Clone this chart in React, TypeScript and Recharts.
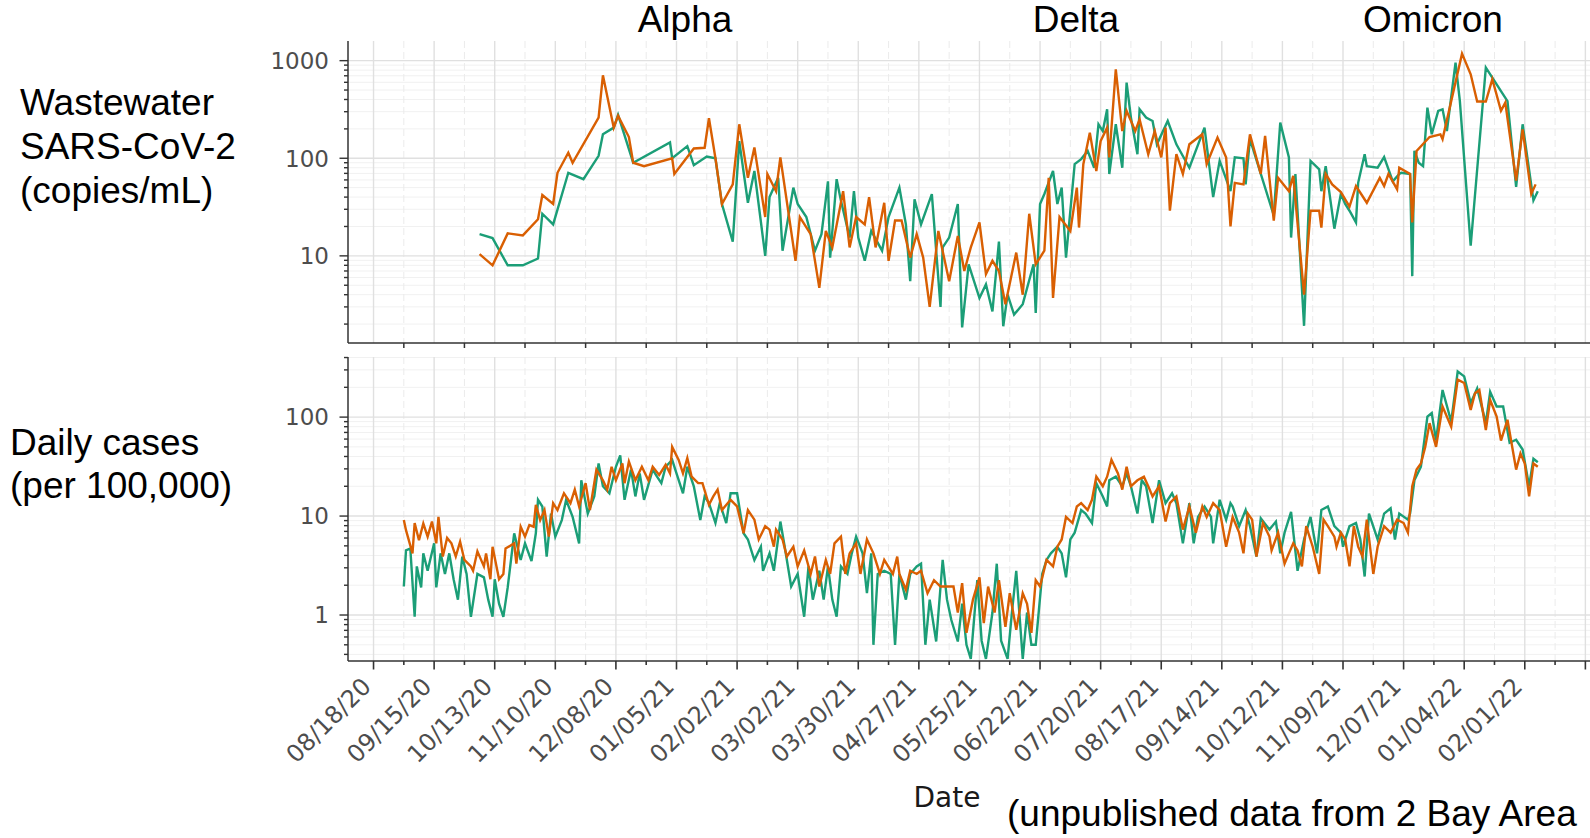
import React from "react";
import { LineChart, Line, XAxis, YAxis, CartesianGrid } from "recharts";

const GREEN = "#1b9e77";
const ORANGE = "#d95f02";
const AXIS = "#333333";
const TICK_TEXT = "#4d4d4d";

// x = days since 08/18/20
const dateLabels = [
  "08/18/20", "09/15/20", "10/13/20", "11/10/20", "12/08/20", "01/05/21", "02/02/21",
  "03/02/21", "03/30/21", "04/27/21", "05/25/21", "06/22/21", "07/20/21", "08/17/21",
  "09/14/21", "10/12/21", "11/09/21", "12/07/21", "01/04/22", "02/01/22",
];
const majorDays = [0, 28, 56, 84, 112, 140, 168, 196, 224, 252, 280, 308, 336, 364, 392, 420, 448, 476, 504, 532, 560];
const minorDays = [14, 42, 70, 98, 126, 154, 182, 210, 238, 266, 294, 322, 350, 378, 406, 434, 462, 490, 518, 546, 574];

const wwMajor = [10, 100, 1000];
const wwMinor = [2, 3, 4, 5, 6, 7, 8, 9, 20, 30, 40, 50, 60, 70, 80, 90, 200, 300, 400, 500, 600, 700, 800, 900];
const caseMajor = [1, 10, 100];
const caseMinor = [0.4, 0.5, 0.6, 0.7, 0.8, 0.9, 2, 3, 4, 5, 6, 7, 8, 9, 20, 30, 40, 50, 60, 70, 80, 90, 200, 300, 400];

type Pt = [number, number];

// Wastewater SARS-CoV-2 (copies/mL)
const wwGreen: Pt[] = [
  [49,16.7],[55,15.2],[62,8.0],[69,8.0],[76,9.4],[78,27],[83,21],[90,71],[97,61],[104,106],[106,176],[111,206],[113,278],
  [120,90],[137,145],[138,100],[145,133],[148,85],[154,104],[158,100],[161,34],[166,14],[169,150],[173,35],[176,74],
  [181,10],[183,40],[187,63],[189,11.3],[194,50],[196,34],[200,25],[204,11.3],[207,16.7],[210,58],[211,9.6],[214,61],
  [216,36.6],[220,15.4],[222,46],[224,15.4],[227,8.9],[230,18],[235,11.3],[238,25],[243,50],[246,21],[248,5.5],[250,38],
  [253,21],[258,43],[262,3.0],[263,12.2],[266,15.4],[270,34],[272,1.85],[275,8.2],[280,3.7],[283,5.1],[286,2.7],[289,14],
  [291,1.9],[293,4.0],[296,2.5],[300,3.2],[305,8.2],[306,2.6],[308,34],[310,43],[314,74],[316,34],[318,50],[320,9.6],
  [324,87],[327,98],[330,119],[333,80],[335,223],[337,190],[339,317],[340,69],[343,223],[346,80],[348,595],[350,261],
  [353,110],[354,317],[357,261],[360,241],[362,139],[367,241],[371,139],[377,80],[384,206],[388,40],[391,94],[396,46],
  [398,102],[402,100],[403,54],[405,157],[416,26],[419,232],[423,102],[424,15.4],[426,69],[430,1.92],[433,94],[437,77],
  [438,46],[440,83],[444,19],[447,43],[449,34],[451,29],[454,22],[455,56],[458,110],[459,83],[464,80],[467,103],[471,58],
  [474,69],[475,71],[479,69],[480,6.2],[481,119],[483,90],[485,83],[487,330],[489,176],[492,306],[494,317],[496,190],
  [500,955],[502,385],[507,12.7],[514,850],[517,670],[521,488],[524,385],[528,51],[531,223],[536,37],[538,46],
];
const wwOrange: Pt[] = [
  [49,10.4],[55,8.0],[62,17],[69,16.2],[76,23.7],[78,42],[83,34],[85,71],[90,114],[92,90],[104,261],[106,708],[111,206],
  [113,272],[118,165],[120,90],[125,83],[138,100],[139,69],[148,126],[153,128],[155,257],[158,100],[161,34],[166,54],
  [169,223],[173,63],[176,129],[181,25],[182,69],[186,46],[188,102],[195,8.9],[197,25],[202,16.7],[206,4.7],[209,18],
  [212,12.2],[217,46],[220,12.2],[223,25],[227,21],[229,40],[232,12.2],[236,35],[238,8.9],[241,23],[244,23],[248,9.6],
  [251,16.7],[254,9.6],[257,3.0],[261,18],[266,5.5],[270,16],[273,7.0],[276,12.2],[280,22],[283,6.5],[286,8.9],[289,7],
  [292,3.2],[297,10.8],[300,4.0],[303,27],[306,8.2],[310,11.3],[312,63],[314,3.7],[317,25],[322,18],[325,50],[326,19.5],
  [328,87],[331,183],[334,74],[336,150],[339,206],[340,102],[343,813],[346,190],[348,306],[352,190],[354,251],[358,110],
  [361,190],[364,102],[366,206],[368,29],[371,110],[374,69],[377,139],[383,176],[385,87],[390,163],[394,102],[396,20],
  [398,56],[402,54],[405,176],[410,69],[412,170],[416,23],[418,63],[423,46],[425,66],[430,4.0],[433,29],[437,29],
  [438,19.5],[440,69],[443,54],[447,45],[451,32],[454,52],[459,35],[465,63],[467,52],[469,69],[473,48],[474,80],[479,69],
  [480,22],[482,119],[488,165],[493,176],[494,157],[503,1180],[507,725],[510,381],[514,381],[517,645],[521,306],[523,371],
  [528,59],[531,198],[535,43],[537,54],
];

// Daily cases (per 100,000)
const caseGreen: Pt[] = [
  [14,1.94],[15,4.5],[17,4.7],[19,0.96],[20,3.1],[22,1.9],[23,4.2],[25,2.8],[28,5.3],[29,1.9],[31,4.2],[33,2.6],[35,4.2],
  [37,2.3],[39,1.43],[41,3.9],[43,2.6],[45,0.96],[48,2.6],[51,2.4],[53,1.43],[55,0.96],[56,2.3],[58,1.3],[60,0.96],[62,1.9],
  [65,6.7],[68,3.6],[70,5.3],[73,3.5],[75,6.7],[76,14.6],[78,12.5],[80,3.9],[82,10.6],[84,6.2],[87,9.1],[89,14.6],[92,9.8],
  [95,5.3],[96,23],[99,10.6],[102,15.8],[104,34],[106,20],[109,17],[112,31.5],[114,41],[116,14.6],[119,29.5],[121,15.8],
  [123,27],[125,14.6],[129,29.5],[131,25],[133,21.5],[135,31.5],[138,37],[140,27],[143,17],[145,31.5],[148,20],[151,9.1],
  [153,15.8],[155,13.5],[158,8.5],[160,13.5],[163,8.5],[165,17],[168,17],[171,6.7],[173,5.8],[175,4.2],[176,3.6],[179,4.9],
  [180,2.8],[183,4.2],[185,2.8],[188,8.8],[190,4.9],[193,1.94],[196,2.6],[199,0.96],[201,3.1],[203,1.43],[206,2.8],
  [208,1.43],[210,3.1],[212,1.43],[214,0.96],[216,3.1],[219,2.6],[221,4.2],[223,6.2],[226,4.2],[228,1.66],[230,4.2],
  [231,0.5],[233,2.6],[236,2.8],[239,2.6],[241,0.5],[243,2.6],[246,1.43],[248,2.6],[251,3.1],[253,3.3],[255,0.5],[257,1.43],
  [260,0.54],[263,3.6],[265,1.43],[267,0.89],[270,0.54],[272,1.3],[274,0.5],[276,0.36],[279,2.25],[281,0.55],[283,0.36],
  [286,1.06],[288,3.3],[290,0.55],[293,0.36],[295,1.06],[297,2.8],[300,0.36],[302,1.06],[304,0.5],[306,0.5],[309,2.6],
  [311,3.6],[313,4.2],[316,4.9],[318,4.2],[320,2.4],[322,5.8],[324,6.8],[327,11.5],[329,10.6],[332,8.5],[334,21.5],
  [337,15.8],[339,12.5],[340,23],[343,25],[346,20],[348,27],[350,20],[353,10.6],[355,23],[357,20],[360,8.5],[363,23],
  [366,13.5],[369,17],[371,13.5],[374,5.3],[377,13.5],[379,5.3],[381,9.8],[384,12.5],[387,9.8],[388,5.3],[391,14.6],
  [394,9.2],[396,13.5],[397,12.5],[400,7.9],[403,11.5],[405,7.9],[408,3.9],[410,9.5],[414,7.3],[417,8.8],[419,4.2],[421,6.8],
  [424,11],[427,2.8],[430,5.8],[433,9.8],[436,4.2],[438,11.5],[441,12.5],[444,7.9],[447,6.8],[448,4.9],[451,7.9],[454,8.5],
  [456,5.8],[458,2.45],[460,10.6],[464,5.8],[467,10.6],[470,12],[472,5.8],[474,10.6],[478,9.2],[479,10.6],[481,23],
  [484,31.5],[487,101],[489,110],[491,58],[494,188],[498,90],[501,289],[504,258],[507,139],[510,195],[514,87],[516,180],
  [519,128],[522,128],[525,55],[528,59],[531,47],[534,20],[536,38],[538,35],
];
const caseOrange: Pt[] = [
  [14,9.1],[15,7.2],[18,4.2],[19,8.5],[21,5.7],[23,8.4],[25,6.2],[27,8.8],[29,5.3],[30,9.8],[32,3.9],[34,6.0],[36,5.3],
  [38,3.9],[40,5.5],[42,3.6],[45,3.1],[46,2.8],[48,4.4],[51,3.1],[52,4.2],[54,2.3],[55,4.9],[58,2.3],[60,2.6],[61,4.7],
  [65,5.3],[66,3.3],[68,7.8],[70,6.2],[72,8.1],[74,7.8],[75,13],[77,9.1],[79,11.5],[81,6.2],[83,13.5],[85,11.5],[88,17],
  [91,13.5],[93,18.5],[95,12.5],[98,21.5],[100,11.5],[103,29.5],[106,23],[108,18.5],[110,31.5],[112,23],[115,34],[116,21.5],
  [118,35.5],[121,23],[124,31.5],[127,23],[129,31.5],[132,26],[135,33],[137,27],[138,50],[141,37],[143,27],[145,38.5],
  [147,25],[150,21.5],[152,21.5],[155,13],[157,15.8],[159,18.5],[161,11.5],[165,14.6],[168,12.5],[171,6.7],[173,11.5],
  [176,9.2],[178,5.8],[181,7.9],[183,7.3],[185,4.9],[186,7.3],[189,5.8],[191,3.9],[194,4.9],[196,3.1],[199,4.5],[202,2.6],
  [204,3.9],[206,1.94],[209,3.6],[211,2.6],[213,5.3],[216,6.2],[218,2.6],[220,4.2],[223,5.3],[225,2.6],[228,5.8],[231,4.2],
  [234,2.6],[236,3.6],[240,2.6],[242,3.9],[243,2.6],[246,1.8],[248,2.8],[251,2.6],[253,2.8],[256,1.66],[259,2.25],[262,1.94],
  [265,1.94],[268,1.94],[270,1.06],[272,2.1],[274,0.66],[277,1.43],[280,2.4],[282,0.83],[284,1.94],[287,1.06],[289,2.25],
  [292,0.76],[294,1.66],[297,0.71],[300,1.66],[302,1.3],[304,0.66],[306,2.25],[308,1.94],[311,3.6],[314,3.1],[316,4.9],
  [318,5.8],[320,9.8],[323,8.5],[325,12.5],[327,13.5],[330,11.5],[332,14.6],[334,25],[337,20],[339,25],[341,37],[344,27],
  [346,18.5],[348,31.5],[350,20],[353,23],[356,25],[358,20],[360,15.8],[363,20],[366,8.8],[368,13.5],[371,15.8],[374,7.3],
  [377,12.5],[380,6.8],[383,12.5],[385,9.8],[388,13.5],[391,11.5],[394,4.9],[397,9.8],[400,6.8],[402,4.2],[404,10.6],
  [406,9.2],[408,3.9],[411,8.5],[414,6.2],[415,4.5],[418,6.8],[421,3.3],[423,4.2],[425,5.3],[427,4.5],[429,3.1],[431,7.9],
  [434,4.9],[437,2.6],[439,9.2],[441,7.9],[444,6.2],[445,4.9],[447,6.8],[449,5.8],[451,3.1],[453,7.9],[455,4.9],[457,3.9],
  [459,9.2],[462,2.6],[464,4.9],[467,7.9],[470,6.8],[473,9.2],[476,8.5],[478,6.8],[480,20],[482,29.5],[484,34],[486,50],
  [488,87],[491,50],[494,128],[498,80],[501,239],[504,221],[507,118],[509,174],[511,188],[514,74],[516,149],[519,101],
  [521,58],[524,94],[528,29.5],[530,43],[532,34],[534,15.8],[536,34],[538,31.5],
];

const X_DOMAIN: [number, number] = [-11.8, 576];
const CHART_W = 1620;
const AXIS_FONT = "'DejaVu Sans', sans-serif";
const LABEL_FONT = "'Liberation Sans', Arial, sans-serif";

const rows = (pts: Pt[]) => pts.map(([d, v]) => ({ d, v }));

function makeYTick(majors: number[]) {
  return (props: any) => {
    const { x, y, payload } = props;
    const major = majors.includes(payload.value);
    return (
      <g>
        <line x1={x - (major ? 8.5 : 4)} x2={x} y1={y} y2={y} stroke={AXIS} strokeWidth={1.4} />
        {major && (
          <text x={x - 19} y={y} dy="0.36em" textAnchor="end" fontSize={23} fill={TICK_TEXT} fontFamily={AXIS_FONT}>
            {payload.value}
          </text>
        )}
      </g>
    );
  };
}

function TopXTick(props: any) {
  const { x, y } = props;
  return <line x1={x} x2={x} y1={y} y2={y + 5} stroke={AXIS} strokeWidth={1.5} />;
}

function BottomXTick(props: any) {
  const { x, y, payload } = props;
  const d = payload.value as number;
  const major = d % 28 === 0;
  const label = major ? dateLabels[d / 28] : undefined;
  const ax = x - 1;
  const ay = y + 27;
  return (
    <g>
      <line x1={x} x2={x} y1={y} y2={y + (major ? 8.5 : 4)} stroke={AXIS} strokeWidth={1.6} />
      {label && (
        <text x={ax} y={ay} transform={`rotate(-45 ${ax} ${ay})`} textAnchor="end" fontSize={24} fill={TICK_TEXT} fontFamily={AXIS_FONT}>
          {label}
        </text>
      )}
    </g>
  );
}

interface PanelProps {
  green: Pt[];
  orange: Pt[];
  yDomain: [number, number];
  yMajor: number[];
  yMinor: number[];
  height: number;
  marginTop: number;
  xAxisHeight: number;
  bottomTicks: number[];
  bottomTick: (p: any) => React.ReactElement;
}

function Panel({ green, orange, yDomain, yMajor, yMinor, height, marginTop, xAxisHeight, bottomTicks, bottomTick }: PanelProps) {
  const yTicks = [...yMinor, ...yMajor].sort((a, b) => a - b);
  return (
    <LineChart width={CHART_W} height={height} margin={{ top: marginTop, right: 0, bottom: 0, left: 0 }}>
      <CartesianGrid vertical={false} horizontalValues={yMinor} stroke="#f1f1f1" strokeWidth={1} />
      <CartesianGrid horizontal={false} verticalValues={minorDays} stroke="#ebebeb" strokeWidth={1} strokeDasharray="7 4" />
      <CartesianGrid horizontalValues={yMajor} verticalValues={majorDays} stroke="#e0e0e0" strokeWidth={1.4} />
      <XAxis
        type="number"
        dataKey="d"
        domain={X_DOMAIN}
        allowDataOverflow
        ticks={bottomTicks}
        interval={0}
        tick={bottomTick}
        tickLine={false}
        tickSize={0}
        tickMargin={0}
        height={xAxisHeight}
        axisLine={{ stroke: AXIS, strokeWidth: 1.5 }}
      />
      <XAxis
        xAxisId="top"
        orientation="top"
        type="number"
        dataKey="d"
        domain={X_DOMAIN}
        allowDataOverflow
        height={0}
        tick={false}
        tickLine={false}
        axisLine={{ stroke: AXIS, strokeWidth: 1.5 }}
      />
      <YAxis
        type="number"
        scale="log"
        domain={yDomain}
        allowDataOverflow
        ticks={yTicks}
        interval={0}
        width={348}
        tick={makeYTick(yMajor)}
        tickLine={false}
        tickSize={0}
        tickMargin={0}
        axisLine={{ stroke: AXIS, strokeWidth: 1.5 }}
      />
      <Line data={rows(green)} dataKey="v" type="linear" stroke={GREEN} strokeWidth={2.4} dot={false} isAnimationActive={false} />
      <Line data={rows(orange)} dataKey="v" type="linear" stroke={ORANGE} strokeWidth={2.4} dot={false} isAnimationActive={false} />
    </LineChart>
  );
}

export default function App() {
  const big = { fontFamily: LABEL_FONT, fontSize: 37, fill: "#000" };
  return (
    <div style={{ position: "absolute", left: 0, top: 0, width: 1590, height: 838, overflow: "hidden", background: "#fff" }}>
      <div style={{ position: "absolute", left: 0, top: 0 }}>
        <Panel
          green={wwGreen}
          orange={wwOrange}
          yDomain={[1.28, 1590]}
          yMajor={wwMajor}
          yMinor={wwMinor}
          height={350}
          marginTop={41}
          xAxisHeight={7}
          bottomTicks={minorDays}
          bottomTick={TopXTick}
        />
      </div>
      <div style={{ position: "absolute", left: 0, top: 350 }}>
        <Panel
          green={caseGreen}
          orange={caseOrange}
          yDomain={[0.343, 405]}
          yMajor={caseMajor}
          yMinor={caseMinor}
          height={488}
          marginTop={7}
          xAxisHeight={177}
          bottomTicks={[...majorDays, ...minorDays].sort((a, b) => a - b)}
          bottomTick={BottomXTick}
        />
      </div>
      <svg width={1590} height={838} style={{ position: "absolute", left: 0, top: 0, pointerEvents: "none" }}>
        <text x={685} y={32} textAnchor="middle" {...big}>Alpha</text>
        <text x={1076} y={32} textAnchor="middle" {...big}>Delta</text>
        <text x={1433} y={32} textAnchor="middle" {...big}>Omicron</text>
        <text x={20} y={115} {...big}>Wastewater</text>
        <text x={20} y={159} {...big}>SARS-CoV-2</text>
        <text x={20} y={203} {...big}>(copies/mL)</text>
        <text x={10} y={455} {...big}>Daily cases</text>
        <text x={10} y={498} {...big}>(per 100,000)</text>
        <text x={947} y={807} textAnchor="middle" fontFamily={AXIS_FONT} fontSize={28} fill="#1a1a1a">Date</text>
        <text x={1007} y={826} {...big}>(unpublished data from 2 Bay Area</text>
      </svg>
    </div>
  );
}
